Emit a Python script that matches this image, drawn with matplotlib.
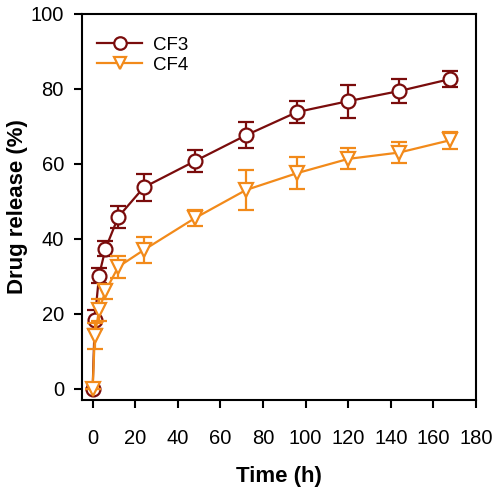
import numpy as np
import matplotlib.pyplot as plt
from matplotlib.lines import Line2D

plt.rcParams['font.family'] = ['Liberation Sans', 'DejaVu Sans']

time = [0, 1, 3, 6, 12, 24, 48, 72, 96, 120, 144, 168]
cf3 = [0, 18.4, 30.2, 37.3, 45.8, 53.7, 60.7, 67.6, 73.8, 76.7, 79.4, 82.6]
cf3_err = [0, 2.5, 2.0, 2.0, 3.0, 3.5, 3.0, 3.5, 3.0, 4.4, 3.1, 2.2]
cf4 = [0, 14.0, 21.0, 26.0, 32.5, 37.0, 45.5, 53.0, 57.5, 61.3, 63.0, 66.3]
cf4_err = [0, 3.5, 3.0, 2.0, 3.0, 3.5, 2.2, 5.4, 4.2, 2.8, 2.7, 2.3]

c3 = "#7a0c0c"
c4 = "#f28a1a"

fig = plt.figure(figsize=(5, 4.92), dpi=100)
ax = fig.add_axes([0.164, 0.187, 0.788, 0.785])

ax.errorbar(time, cf3, yerr=cf3_err, color=c3, marker="o", markersize=10,
            markerfacecolor="white", markeredgewidth=1.6, linewidth=1.6,
            capsize=6, capthick=1.6, elinewidth=1.6, zorder=2)
ax.errorbar(time, cf4, yerr=cf4_err, color=c4, marker="v", markersize=10,
            markerfacecolor="white", markeredgewidth=1.6, linewidth=1.6,
            capsize=6, capthick=1.6, elinewidth=1.6, zorder=3)

ax.set_xlim(-5, 180)
ax.set_ylim(-3, 100)
ax.set_xticks(np.arange(0, 181, 20))
ax.set_yticks(np.arange(0, 101, 20))
ax.tick_params(direction="out", length=6, width=1.5, labelsize=14.5, top=False, right=False)
ax.tick_params(axis="x", pad=15)
ax.tick_params(axis="y", pad=7)
for s in ax.spines.values():
    s.set_linewidth(1.5)

ax.set_xlabel("Time (h)", fontsize=16, fontweight="bold", labelpad=13)
ax.set_ylabel("Drug release (%)", fontsize=16, fontweight="bold", labelpad=2)

handles = [
    Line2D([], [], color=c3, marker="o", markersize=9, markerfacecolor="white",
           markeredgewidth=1.6, linewidth=1.6),
    Line2D([], [], color=c4, marker="v", markersize=9, markerfacecolor="white",
           markeredgewidth=1.6, linewidth=1.6),
]
ax.legend(handles, ["CF3", "CF4"], loc="upper left", bbox_to_anchor=(0.0, 0.98),
          frameon=False, fontsize=13.5, handlelength=2.4, borderaxespad=0.4,
          labelspacing=0.15, handletextpad=0.6)

plt.savefig("out.png")
